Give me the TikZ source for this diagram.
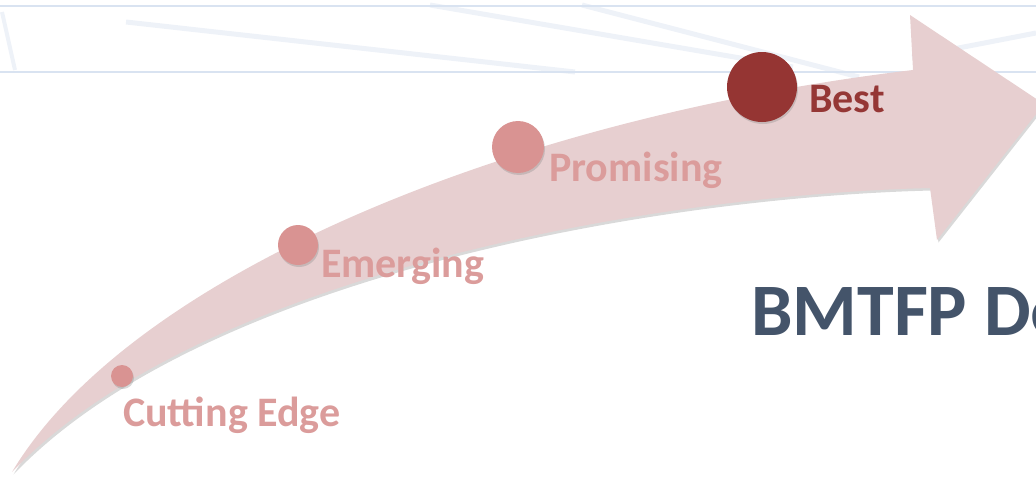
\documentclass[tikz,border=0pt]{standalone}
\usepackage{fontspec}
\setmainfont{Carlito}
\usetikzlibrary{shadows}
\definecolor{bandpink}{HTML}{E7CFD0}
\definecolor{dotpink}{HTML}{D99392}
\definecolor{dotdark}{HTML}{953533}
\definecolor{lblpink}{HTML}{DB9C9B}
\definecolor{lbldark}{HTML}{953735}
\definecolor{titleblue}{HTML}{44546A}
\definecolor{bannerline}{HTML}{D9E3F1}
\definecolor{streak}{HTML}{EEF2F8}
\begin{document}
\begin{tikzpicture}[x=1pt,y=-1pt,
  band/.style={fill=bandpink, drop shadow={opacity=0.3, shadow xshift=1.5pt, shadow yshift=-2.5pt}},
  dot/.style={circle, fill=dotpink, inner sep=0pt, drop shadow={opacity=0.3, shadow xshift=1pt, shadow yshift=-2pt}},
  bigdot/.style={dot, fill=dotdark},
  lbl/.style={anchor=base west, inner sep=0pt, text=lblpink, font=\fontsize{42}{50}\selectfont\bfseries},
  lbldk/.style={lbl, text=lbldark},
  title/.style={anchor=base west, inner sep=0pt, text=titleblue, font=\fontsize{74}{88}\selectfont\bfseries}]
\useasboundingbox (0,0) rectangle (1036,479);
\clip (0,0) rectangle (1036,479);
% banner
\draw[streak, line width=5pt] (126,22) -- (575,72);
\draw[streak, line width=5pt] (430,5) -- (793,67);
\draw[streak, line width=5pt] (582,5) -- (859,77);
\draw[streak, line width=5pt] (912,57) -- (1036,33);
\draw[streak, line width=4pt] (2,12) -- (15,70);
\draw[bannerline, line width=1.5pt] (0,6) -- (1036,6);
\draw[bannerline, line width=1.5pt] (0,72) -- (1036,72);
% arrow
\fill[band] (12,472) .. controls (130,275) and (510,118) .. (913,70)
  -- (910,15) -- (1044,104) -- (937,240) -- (930,188)
  .. controls (650,195) and (200,275) .. (12,472) -- cycle;
% dots
\node[dot, minimum size=22pt] (d1) at (122,376) {};
\node[dot, minimum size=40pt] (d2) at (298,245) {};
\node[dot, minimum size=52pt] (d3) at (518,147) {};
\node[bigdot, minimum size=70pt] (d4) at (762,87) {};
% labels
\node[lbl] (l1) at (123,426) {Cutting Edge};
\node[lbl] (l2) at (321,277) {Emerging};
\node[lbl] (l3) at (549,181) {Promising};
\node[lbldk] (l4) at (809,112) {Best};
\node[title] (t) at (751,335) {BMTFP De};
\end{tikzpicture}
\end{document}
